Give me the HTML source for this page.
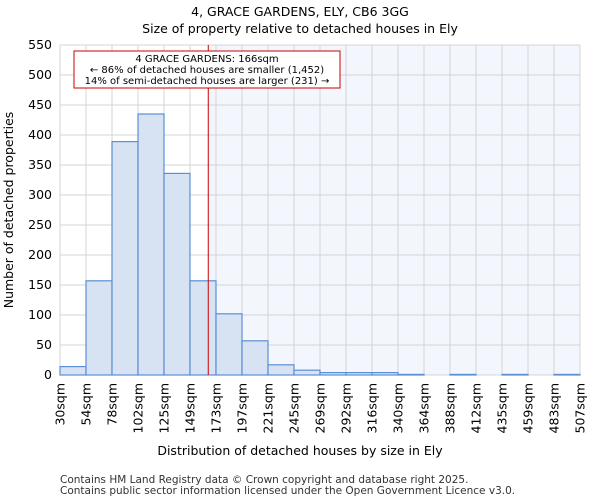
<!DOCTYPE html>
<html><head><meta charset="utf-8"><style>
body{margin:0;background:#fff;font-family:"DejaVu Sans","Liberation Sans",sans-serif;}
</style></head><body>
<svg id="c" width="600" height="500" xmlns="http://www.w3.org/2000/svg" font-family="DejaVu Sans, Liberation Sans, sans-serif">
<text x="300" y="16" text-anchor="middle" font-size="12.5">4, GRACE GARDENS, ELY, CB6 3GG</text>
<text x="300" y="33" text-anchor="middle" font-size="12.5">Size of property relative to detached houses in Ely</text>
<g id="plot"></g>
<text x="300" y="455" text-anchor="middle" font-size="12.5">Distribution of detached houses by size in Ely</text>
<text transform="translate(13,210) rotate(-90)" text-anchor="middle" font-size="12.5">Number of detached properties</text>
<text x="60" y="483" font-size="10.5" fill="#333">Contains HM Land Registry data © Crown copyright and database right 2025.</text>
<text x="60" y="494" font-size="10.5" fill="#333">Contains public sector information licensed under the Open Government Licence v3.0.</text>
</svg>
<script>
const tickLabels=["30sqm","54sqm","78sqm","102sqm","125sqm","149sqm","173sqm","197sqm","221sqm","245sqm","269sqm","292sqm","316sqm","340sqm","364sqm","388sqm","412sqm","435sqm","459sqm","483sqm","507sqm"];
const binEdges=[30,54,78,102,125,149,173,197,221,245,269,292,316,340,364,388,412,435,459,483,507];
const counts=[14,157,389,435,336,157,102,57,17,8,4,4,4,1,0,1,0,1,0,1];
const yTicks=[0,50,100,150,200,250,300,350,400,450,500,550];
const marker=166;
const NS="http://www.w3.org/2000/svg";
const L=60,R=580,T=45,B=375,yMax=550;
const x=v=>L+(v-binEdges[0])/(binEdges[binEdges.length-1]-binEdges[0])*(R-L);
const xi=i=>L+i*(R-L)/(binEdges.length-1);
const y=v=>B-v/yMax*(B-T);
const g=document.getElementById('plot');
function mk(t,a){const e=document.createElementNS(NS,t);for(const k in a)e.setAttribute(k,a[k]);g.appendChild(e);return e;}
let e=mk('rect',{x:L,y:T,width:R-L,height:B-T,fill:'#fff'});


const mx=x(marker);
e=mk('rect',{x:mx,y:T,width:R-mx,height:B-T,fill:'#f3f6fd'});


yTicks.forEach(v=>{
 e=mk('line',{x1:L,x2:R,y1:y(v),y2:y(v),stroke:'#d4d4d4','stroke-width':1});
 
 
 e=mk('text',{x:L-8,y:y(v)+4,'text-anchor':'end','font-size':12.5});
 e.textContent=v;
 
 
});
tickLabels.forEach((t,i)=>{
 e=mk('line',{x1:xi(i),x2:xi(i),y1:T,y2:B,stroke:'#d4d4d4','stroke-width':1});
 
 
 const tx=xi(i)+4.5;
 e=mk('text',{transform:`translate(${tx},${B+8}) rotate(-90)`,'text-anchor':'end','font-size':12.5});
 e.textContent=t;
 
 
});
counts.forEach((c,i)=>{
 if(c<=0)return;
 e=mk('rect',{x:xi(i),y:y(c),width:xi(i+1)-xi(i),height:B-y(c),fill:'#d7e2f3',stroke:'#5b8fd6','stroke-width':1.2});
 
 
});
e=mk('line',{x1:mx,x2:mx,y1:T,y2:B,stroke:'#cc0000','stroke-width':1});


e=mk('rect',{x:74,y:51,width:266,height:37,fill:'#fff',stroke:'#cc0000','stroke-width':1});


["4 GRACE GARDENS: 166sqm","← 86% of detached houses are smaller (1,452)","14% of semi-detached houses are larger (231) →"].forEach((t,i)=>{
 e=mk('text',{x:207,y:62+i*11,'text-anchor':'middle','font-size':10});
 e.textContent=t;
 
 
});
</script>
</body></html>
